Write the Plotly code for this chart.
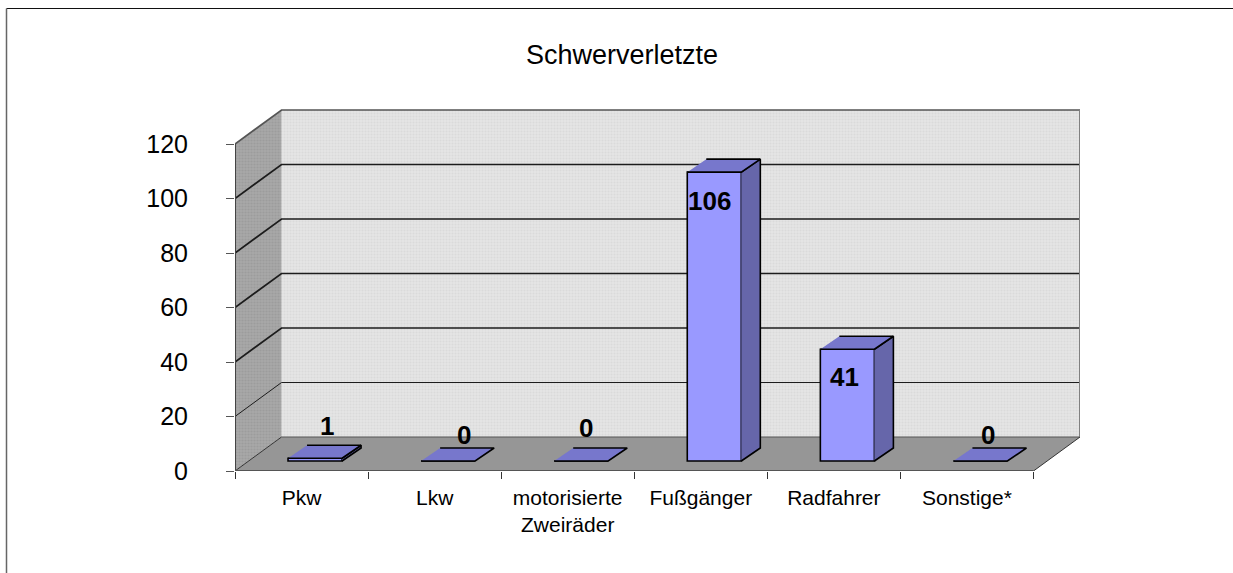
import plotly.graph_objects as go

categories = ["Pkw", "Lkw", "motorisierte<br>Zweiräder", "Fußgänger", "Radfahrer", "Sonstige*"]
values = [1, 0, 0, 106, 41, 0]
label_dx = [0.19, 0.22, 0.14, 0.065, 0.08, 0.16]
label_dy = [15.5, 13.2, 15.8, -7.0, -6.5, 13.2]
y_ticks = [0, 20, 40, 60, 80, 100, 120]
title = "Schwerverletzte"

W, H = 1233, 573
L, R, T, B = 235, 1080, 109, 471
px_x = 133.0
px_y = 2.725
x0 = -0.5
x1 = 5.5
depth_x = 46.5 / px_x
depth_y = 34.0 / px_y
xr = [x0, x1 + depth_x]
yr = [0, (B - T) / px_y]

bar_w = 54.0 / px_x
bar_dx = 13.5 / px_x
bar_base = 10.0 / px_y
bar_depth_x = 19.0 / px_x
bar_depth_y = 13.0 / px_y
font = "Liberation Sans, Arial, sans-serif"
edge = 1.6

fig = go.Figure()


def poly(xs, ys, fill, line=None, lw=0, pattern=None, axes=("x", "y")):
    fig.add_trace(go.Scatter(
        x=xs, y=ys, mode="lines", fill="toself", fillcolor=fill,
        fillpattern=pattern,
        line=dict(color=line or fill, width=lw), cliponaxis=False,
        xaxis=axes[0], yaxis=axes[1], hoverinfo="skip", showlegend=False))


def stroke(xs, ys, color, lw, axes=("x", "y")):
    fig.add_trace(go.Scatter(
        x=xs, y=ys, mode="lines", line=dict(color=color, width=lw),
        cliponaxis=False, xaxis=axes[0], yaxis=axes[1],
        hoverinfo="skip", showlegend=False))


ymax_front = y_ticks[-1]
# back wall
poly([x0 + depth_x, xr[1], xr[1], x0 + depth_x],
     [depth_y, depth_y, ymax_front + depth_y, ymax_front + depth_y], "#e2e2e2",
     pattern=dict(shape=".", size=3, solidity=0.4, fgcolor="#dadada", bgcolor="#e6e6e6", fillmode="replace"))
# left wall
poly([x0, x0 + depth_x, x0 + depth_x, x0],
     [0, depth_y, ymax_front + depth_y, ymax_front], "#a2a2a2",
     pattern=dict(shape=".", size=3, solidity=0.4, fgcolor="#9c9c9c", bgcolor="#a8a8a8", fillmode="replace"))
# floor
poly([x0, x1, xr[1], x0 + depth_x], [0, 0, depth_y, depth_y], "#969696")

# gridlines
for v in y_ticks[1:]:
    lw = 1.0 if v <= 20 else 1.7
    col = "#555555" if v == 120 else "#1c1c1c"
    stroke([x0, x0 + depth_x, xr[1]], [v, v + depth_y, v + depth_y], col, lw)
stroke([x0 + depth_x, xr[1]], [depth_y, depth_y], "#555555", 1)
# wall and floor edges
stroke([xr[1], xr[1]], [depth_y, ymax_front + depth_y], "#808080", 2)
stroke([x0, x0], [0, ymax_front], "#444444", 2)
stroke([x0, x0 + depth_x], [0, depth_y], "#333333", 1)
stroke([x1, xr[1]], [0, depth_y], "#333333", 1)
stroke([x0, x1], [0, 0], "#555555", 2)

# bars: front faces
positions = list(range(len(categories)))
fig.add_trace(go.Bar(
    x=[p + bar_dx for p in positions], y=values, base=[bar_base] * len(values),
    width=bar_w, marker=dict(color="#9999ff", line=dict(color="#000000", width=edge)),
    xaxis="x2", yaxis="y2", hoverinfo="skip", showlegend=False))

for p, v in zip(positions, values):
    left = p + bar_dx - bar_w / 2
    right = p + bar_dx + bar_w / 2
    top = bar_base + v
    if v > 0:
        poly([right, right + bar_depth_x, right + bar_depth_x, right],
             [bar_base, bar_base + bar_depth_y, top + bar_depth_y, top],
             "#6666aa", "#000000", edge, axes=("x2", "y2"))
    poly([left, right, right + bar_depth_x, left + bar_depth_x],
         [top, top, top + bar_depth_y, top + bar_depth_y],
         "#7777cc", "#000000", edge, axes=("x2", "y2"))

annotations = [
    dict(x=p + dx, y=v + dy, xref="x", yref="y", text=str(v), showarrow=False,
         xanchor="center", yanchor="middle",
         font=dict(family=font, size=26, color="#000000", weight="bold"))
    for p, v, dx, dy in zip(positions, values, label_dx, label_dy)
]
annotations.append(dict(
    x=(621.5 - L) / (R - L), y=(B - 55) / (B - T), xref="paper", yref="paper",
    text=title, showarrow=False, xanchor="center", yanchor="middle",
    font=dict(family=font, size=27, color="#000000")))

frame_left = (6.5 - L) / (R - L)
frame_right = (W - L) / (R - L)
frame_top = (B - 8.5) / (B - T)
frame_bottom = (B - H) / (B - T)

axis_common = dict(showgrid=False, zeroline=False, showline=False)
fig.update_layout(
    width=W, height=H,
    margin=dict(l=L, r=W - R, t=T, b=H - B, autoexpand=False),
    paper_bgcolor="#ffffff", plot_bgcolor="#ffffff",
    showlegend=False, barmode="overlay", annotations=annotations,
    shapes=[
        dict(type="line", xref="paper", yref="paper", x0=frame_left, x1=frame_right,
             y0=frame_top, y1=frame_top, line=dict(color="#111111", width=1)),
        dict(type="line", xref="paper", yref="paper", x0=frame_left, x1=frame_left,
             y0=frame_bottom, y1=frame_top, line=dict(color="#666666", width=1.5)),
    ],
    xaxis=dict(
        range=xr, tickmode="array", tickvals=positions, ticktext=categories,
        ticks="", ticklen=0, ticklabelstandoff=12,
        tickfont=dict(family=font, size=21, color="#000000"),
        minor=dict(tickmode="array", tickvals=[x0 + i for i in range(7)], ticks="outside",
                   ticklen=7, tickcolor="#333333", tickwidth=1),
        **axis_common),
    yaxis=dict(
        range=yr, tickmode="array", tickvals=y_ticks, ticks="outside", ticklen=8,
        tickcolor="#555555", tickwidth=1, ticklabelstandoff=33,
        tickfont=dict(family=font, size=25, color="#000000"),
        **axis_common),
    xaxis2=dict(range=xr, overlaying="x", visible=False),
    yaxis2=dict(range=yr, overlaying="y", visible=False),
)

fig.write_html("out.html", config={"displayModeBar": False},
               post_script="document.body.style.margin='0';")
